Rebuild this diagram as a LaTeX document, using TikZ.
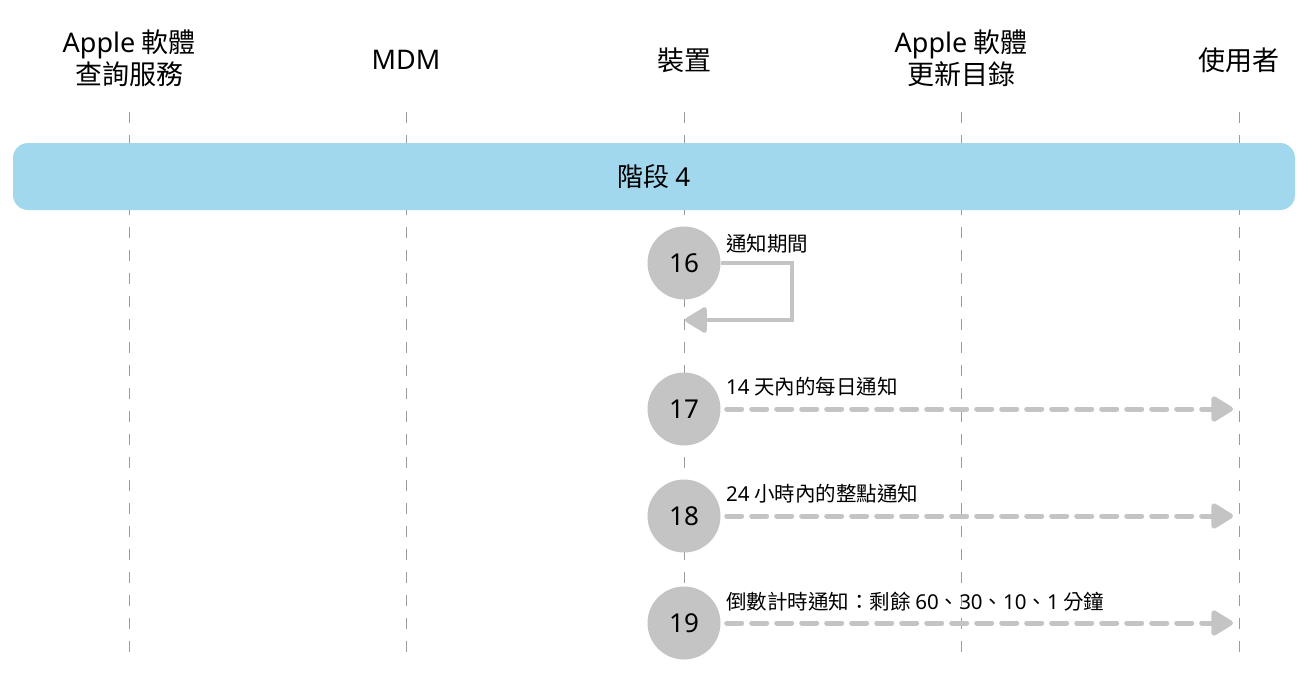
\documentclass[tikz,border=0pt]{standalone}
\usepackage{fontspec}
\setmainfont{Noto Sans CJK TC}
\newfontfamily\latn{Noto Sans}
\usetikzlibrary{arrows.meta}
\definecolor{bandblue}{HTML}{A2D8EE}
\definecolor{stepgray}{HTML}{C4C4C4}
\definecolor{lifegray}{HTML}{9A9A9A}
\begin{document}
\begin{tikzpicture}[x=1pt,y=-1pt,
  header/.style={font=\fontsize{27}{32}\selectfont, align=center, text=black},
  lifeline/.style={draw=lifegray, line width=0.9pt, dash pattern=on 11pt off 12pt},
  stepcircle/.style={circle, fill=stepgray, minimum size=73pt, inner sep=0pt, font=\latn\fontsize{26}{30}\selectfont},
  msglabel/.style={anchor=west, font=\fontsize{20.5}{24}\selectfont, inner sep=0pt},
  msgarrow/.style={draw=stepgray, line width=5pt, dash pattern=on 15pt off 10pt, line cap=round,
    -{Triangle[length=24pt,width=28pt,round]}},
  selfarrow/.style={draw=stepgray, line width=4.5pt, -{Triangle[length=24pt,width=28pt,round]}}
]
\useasboundingbox (0,0) rectangle (1303,673);
% headers
\node[header] (h1) at (129,58) {{\latn Apple} 軟體\\查詢服務};
\node[header] (h2) at (406,60) {\latn MDM};
\node[header] (h3) at (684,60) {裝置};
\node[header] (h4) at (961,58) {{\latn Apple} 軟體\\更新目錄};
\node[header] (h5) at (1239,60) {使用者};
% lifelines
\foreach \x/\n in {129/a,406/b,684/c,961/d,1239/e}{
  \coordinate (top\n) at (\x,112);
  \coordinate (bot\n) at (\x,652);
  \draw[lifeline] (top\n) -- (bot\n);
}
% band
\node[fill=bandblue, rounded corners=15pt, minimum width=1282pt, minimum height=67pt, inner sep=0pt,
  font=\fontsize{26}{30}\selectfont] (band) at (654,176.5) {階段 {\latn 4}};
% steps
\node[stepcircle] (s16) at (684,263) {16};
\node[stepcircle] (s17) at (684,409) {17};
\node[stepcircle] (s18) at (684,516) {18};
\node[stepcircle] (s19) at (684,623) {19};
% self loop
\coordinate (loopend) at (685,320);
\draw[selfarrow] (s16.east) -- (792,263) -- (792,320) -- (loopend);
\node[msglabel] (l16) at (726,244) {通知期間};
% messages
\coordinate (u17) at (1233,409);
\coordinate (u18) at (1233,516);
\coordinate (u19) at (1233,623);
\draw[msgarrow] (s17.east) ++(6pt,0) -- (u17);
\draw[msgarrow] (s18.east) ++(6pt,0) -- (u18);
\draw[msgarrow] (s19.east) ++(6pt,0) -- (u19);
\node[msglabel] (l17) at (726,387) {{\latn 14} 天內的每日通知};
\node[msglabel] (l18) at (726,494) {{\latn 24} 小時內的整點通知};
\node[msglabel] (l19) at (726,602) {倒數計時通知：剩餘 {\latn 60}、{\latn 30}、{\latn 10}、{\latn 1} 分鐘};
\end{tikzpicture}
\end{document}
